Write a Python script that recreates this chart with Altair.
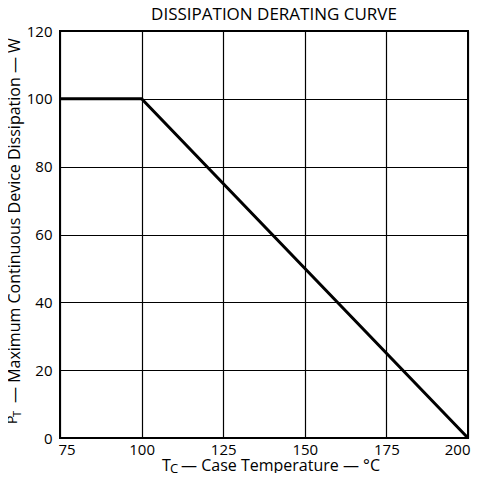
import altair as alt
import pandas as pd

temps = [75, 100, 200]
power = [100, 100, 0]
x_ticks = [75, 100, 125, 150, 175, 200]
y_ticks = [0, 20, 40, 60, 80, 100, 120]

FONT = "Open Sans"
df = pd.DataFrame({"t": temps, "p": power})

line = alt.Chart(df).mark_line(color="black", strokeWidth=3).encode(
    x=alt.X("t:Q", scale=alt.Scale(domain=[75, 200], nice=False),
            axis=alt.Axis(values=x_ticks, title=None, ticks=False, labelPadding=4,
                          labelFontSize=15, labelFont=FONT, labelColor="black",
                          labelFlush=True, labelFlushOffset=2,
                          grid=True, gridColor="black", gridWidth=1.2, domain=False)),
    y=alt.Y("p:Q", scale=alt.Scale(domain=[0, 120], nice=False),
            axis=alt.Axis(values=y_ticks, title=None, ticks=False, labelPadding=8,
                          labelFontSize=15, labelFont=FONT, labelColor="black",
                          grid=True, gridColor="black", gridWidth=1.2, domain=False)),
)

def txt(s, x, y, size=15, angle=0, align="left", baseline="middle"):
    return alt.Chart(pd.DataFrame({"s": [s]})).mark_text(
        font=FONT, fontSize=size, align=align, baseline=baseline, angle=angle, color="black"
    ).encode(text="s:N", x=alt.value(x), y=alt.value(y))

title = txt("DISSIPATION DERATING CURVE", 214, -11, size=17, align="center", baseline="alphabetic")
xt = [txt("T", 102, 440, size=16, baseline="alphabetic"),
      txt("C", 110, 442, size=13, baseline="alphabetic"),
      txt("— Case Temperature — °C", 121, 440, size=16, baseline="alphabetic")]
yt = [txt("P", -47, 393, size=14, angle=270), txt("T", -42, 386, size=11, angle=270),
      txt("— Maximum Continuous Device Dissipation — W", -45, 372, size=16, angle=270)]

chart = alt.layer(line, title, *xt, *yt).properties(
    width=408, height=407,
    padding={"left": 52, "top": 23, "right": 3, "bottom": 35},
    autosize=alt.AutoSizeParams(type="none"),
).configure_view(stroke="black", strokeWidth=2)

chart.save("out.html", embed_options={"renderer": "svg", "actions": False})
